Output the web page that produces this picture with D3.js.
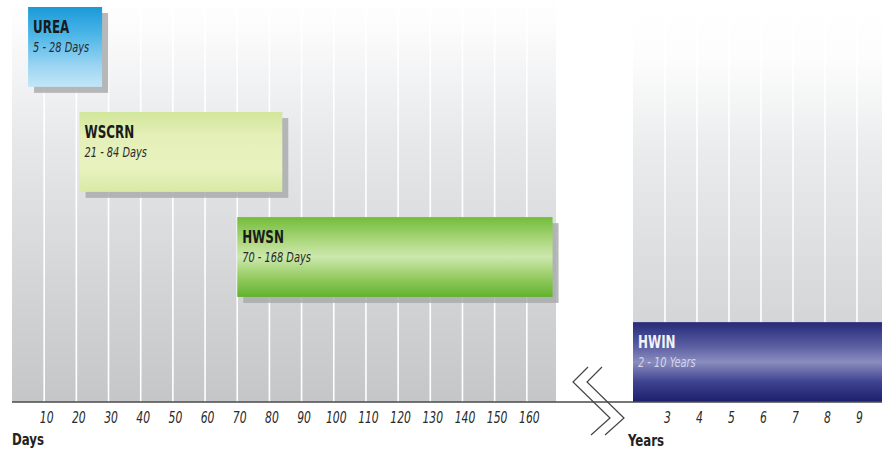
<!DOCTYPE html>
<html>
<head>
<meta charset="utf-8">
<script src="https://cdn.jsdelivr.net/npm/d3@7"></script>
<style>
  body { margin: 0; background: #fff; }
  text { font-family: "DejaVu Sans Condensed", "Liberation Sans", sans-serif; font-stretch: condensed; }
</style>
</head>
<body>
<div id="chart"></div>
<script>
// products and their service ranges
const products = ["UREA", "WSCRN", "HWSN", "HWIN"];
const rangeLabels = ["5 - 28 Days", "21 - 84 Days", "70 - 168 Days", "2 - 10 Years"];
const rangeStart = [5, 21, 70, 2];
const rangeEnd = [28, 84, 168, 10];
const rangeUnit = ["days", "days", "days", "years"];
// tick labels
const dayTicks = [10, 20, 30, 40, 50, 60, 70, 80, 90, 100, 110, 120, 130, 140, 150, 160];
const yearTicks = [3, 4, 5, 6, 7, 8, 9];

const width = 882, height = 449;
const axisY = 402;

const svg = d3.select("#chart").append("svg")
  .attr("width", width)
  .attr("height", height);

const xDays = d3.scaleLinear().domain([0, 170]).range([12, 559]);
const xYears = d3.scaleLinear().domain([2, 10]).range([633, 889]);
const y = d3.scaleBand().domain(products).range([7, axisY]).paddingInner(0.24);

const defs = svg.append("defs");
function vGrad(id, stops) {
  const g = defs.append("linearGradient").attr("id", id)
    .attr("x1", 0).attr("y1", 0).attr("x2", 0).attr("y2", 1);
  stops.forEach(s => g.append("stop").attr("offset", s[0]).attr("stop-color", s[1]));
}
vGrad("bgLeft", [[0, "#ffffff"], [0.08, "#fbfbfc"], [0.35, "#e6e8e9"], [0.7, "#d3d5d7"], [1, "#c4c6c8"]]);
vGrad("bgRight", [[0, "#ffffff"], [0.14, "#fdfdfd"], [0.4, "#e8eaeb"], [0.75, "#d6d8da"], [1, "#c8cacc"]]);
vGrad("g0", [[0, "#1a9ad8"], [0.35, "#4cb6e8"], [0.75, "#9ed6f2"], [1, "#c2e6f7"]]);
vGrad("g1", [[0, "#d2e69a"], [0.3, "#e4f0b8"], [0.7, "#e8f2bf"], [1, "#d9eaa6"]]);
vGrad("g2", [[0, "#72bd3a"], [0.35, "#b6dc8a"], [0.5, "#cde8ae"], [0.75, "#96cc62"], [1, "#62b22e"]]);
vGrad("g3", [[0, "#262a78"], [0.3, "#5a5ea2"], [0.5, "#8a8dbd"], [0.75, "#3e4290"], [1, "#1c1f6a"]]);

// background panels
svg.append("rect")
  .attr("x", xDays(0)).attr("y", 0)
  .attr("width", 556 - xDays(0)).attr("height", axisY)
  .attr("fill", "url(#bgLeft)");
svg.append("rect")
  .attr("x", xYears(2)).attr("y", 0)
  .attr("width", width - xYears(2)).attr("height", axisY)
  .attr("fill", "url(#bgRight)");

// white grid lines
svg.append("g").selectAll("line").data(dayTicks).join("line")
  .attr("x1", d => xDays(d)).attr("x2", d => xDays(d))
  .attr("y1", 0).attr("y2", axisY)
  .attr("stroke", "#fff").attr("stroke-width", 1.6);
svg.append("g").selectAll("line").data(yearTicks).join("line")
  .attr("x1", d => xYears(d)).attr("x2", d => xYears(d))
  .attr("y1", 0).attr("y2", axisY)
  .attr("stroke", "#fff").attr("stroke-width", 1.6);

// bars
const rows = products.map((p, i) => ({
  name: p, label: rangeLabels[i], start: rangeStart[i], end: rangeEnd[i],
  x: rangeUnit[i] === "days" ? xDays : xYears, i: i
}));

const bar = svg.append("g").selectAll("g").data(rows).join("g");

bar.filter(d => d.i < 3).append("rect")
  .attr("x", d => d.x(d.start) + 6)
  .attr("y", d => y(d.name) + 6)
  .attr("width", d => d.x(d.end) - d.x(d.start))
  .attr("height", y.bandwidth())
  .attr("fill", "#a9abad")
  .attr("opacity", 0.85);

bar.append("rect")
  .attr("x", d => d.x(d.start))
  .attr("y", d => y(d.name))
  .attr("width", d => d.x(d.end) - d.x(d.start))
  .attr("height", y.bandwidth())
  .attr("fill", d => `url(#g${d.i})`);

// condensed labels: squeeze horizontally
bar.append("text")
  .attr("transform", d => `translate(${d.x(d.start) + 5},${y(d.name) + 26}) scale(0.78,1)`)
  .attr("font-size", 17).attr("font-weight", "bold")
  .attr("fill", d => d.i === 3 ? "#f2f2fa" : "#1a1a1a")
  .text(d => d.name);

bar.append("text")
  .attr("transform", d => `translate(${d.x(d.start) + 5},${y(d.name) + 45}) scale(0.78,1)`)
  .attr("font-size", 14).attr("font-style", "italic")
  .attr("fill", d => d.i === 3 ? "#d4d4ee" : "#2a2a2a")
  .text(d => d.label);

// axis baseline
svg.append("line")
  .attr("x1", 12).attr("x2", width)
  .attr("y1", axisY).attr("y2", axisY)
  .attr("stroke", "#4a4a4a").attr("stroke-width", 1.6);

// tick labels
const dayAxis = svg.append("g").attr("transform", `translate(2,${axisY})`)
  .call(d3.axisBottom(xDays).tickValues(dayTicks).tickSize(0).tickPadding(10));
const yearAxis = svg.append("g").attr("transform", `translate(2,${axisY})`)
  .call(d3.axisBottom(xYears).tickValues(yearTicks).tickSize(0).tickPadding(10));
[dayAxis, yearAxis].forEach(a => {
  a.select(".domain").remove();
  a.selectAll("text")
    .attr("font-size", 15).attr("font-style", "italic")
    .attr("fill", "#2a2a2a")
    .attr("transform", "scale(0.8,1)")
    .style("font-family", "\"DejaVu Sans Condensed\", sans-serif");
});

svg.append("text").attr("transform", "translate(12,445) scale(0.82,1)")
  .attr("font-size", 16).attr("font-weight", "bold").attr("fill", "#222")
  .text("Days");
svg.append("text").attr("transform", "translate(628,446) scale(0.82,1)")
  .attr("font-size", 16).attr("font-weight", "bold").attr("fill", "#222")
  .text("Years");

// axis break symbol
const breakPts = [[0, 0], [-15, 15], [22, 51], [3, 68]];
[588, 602].forEach(bx => {
  svg.append("path")
    .attr("d", d3.line()(breakPts.map(p => [bx + p[0], 367 + p[1]])))
    .attr("fill", "none").attr("stroke", "#444").attr("stroke-width", 1.2);
});
</script>
</body>
</html>
